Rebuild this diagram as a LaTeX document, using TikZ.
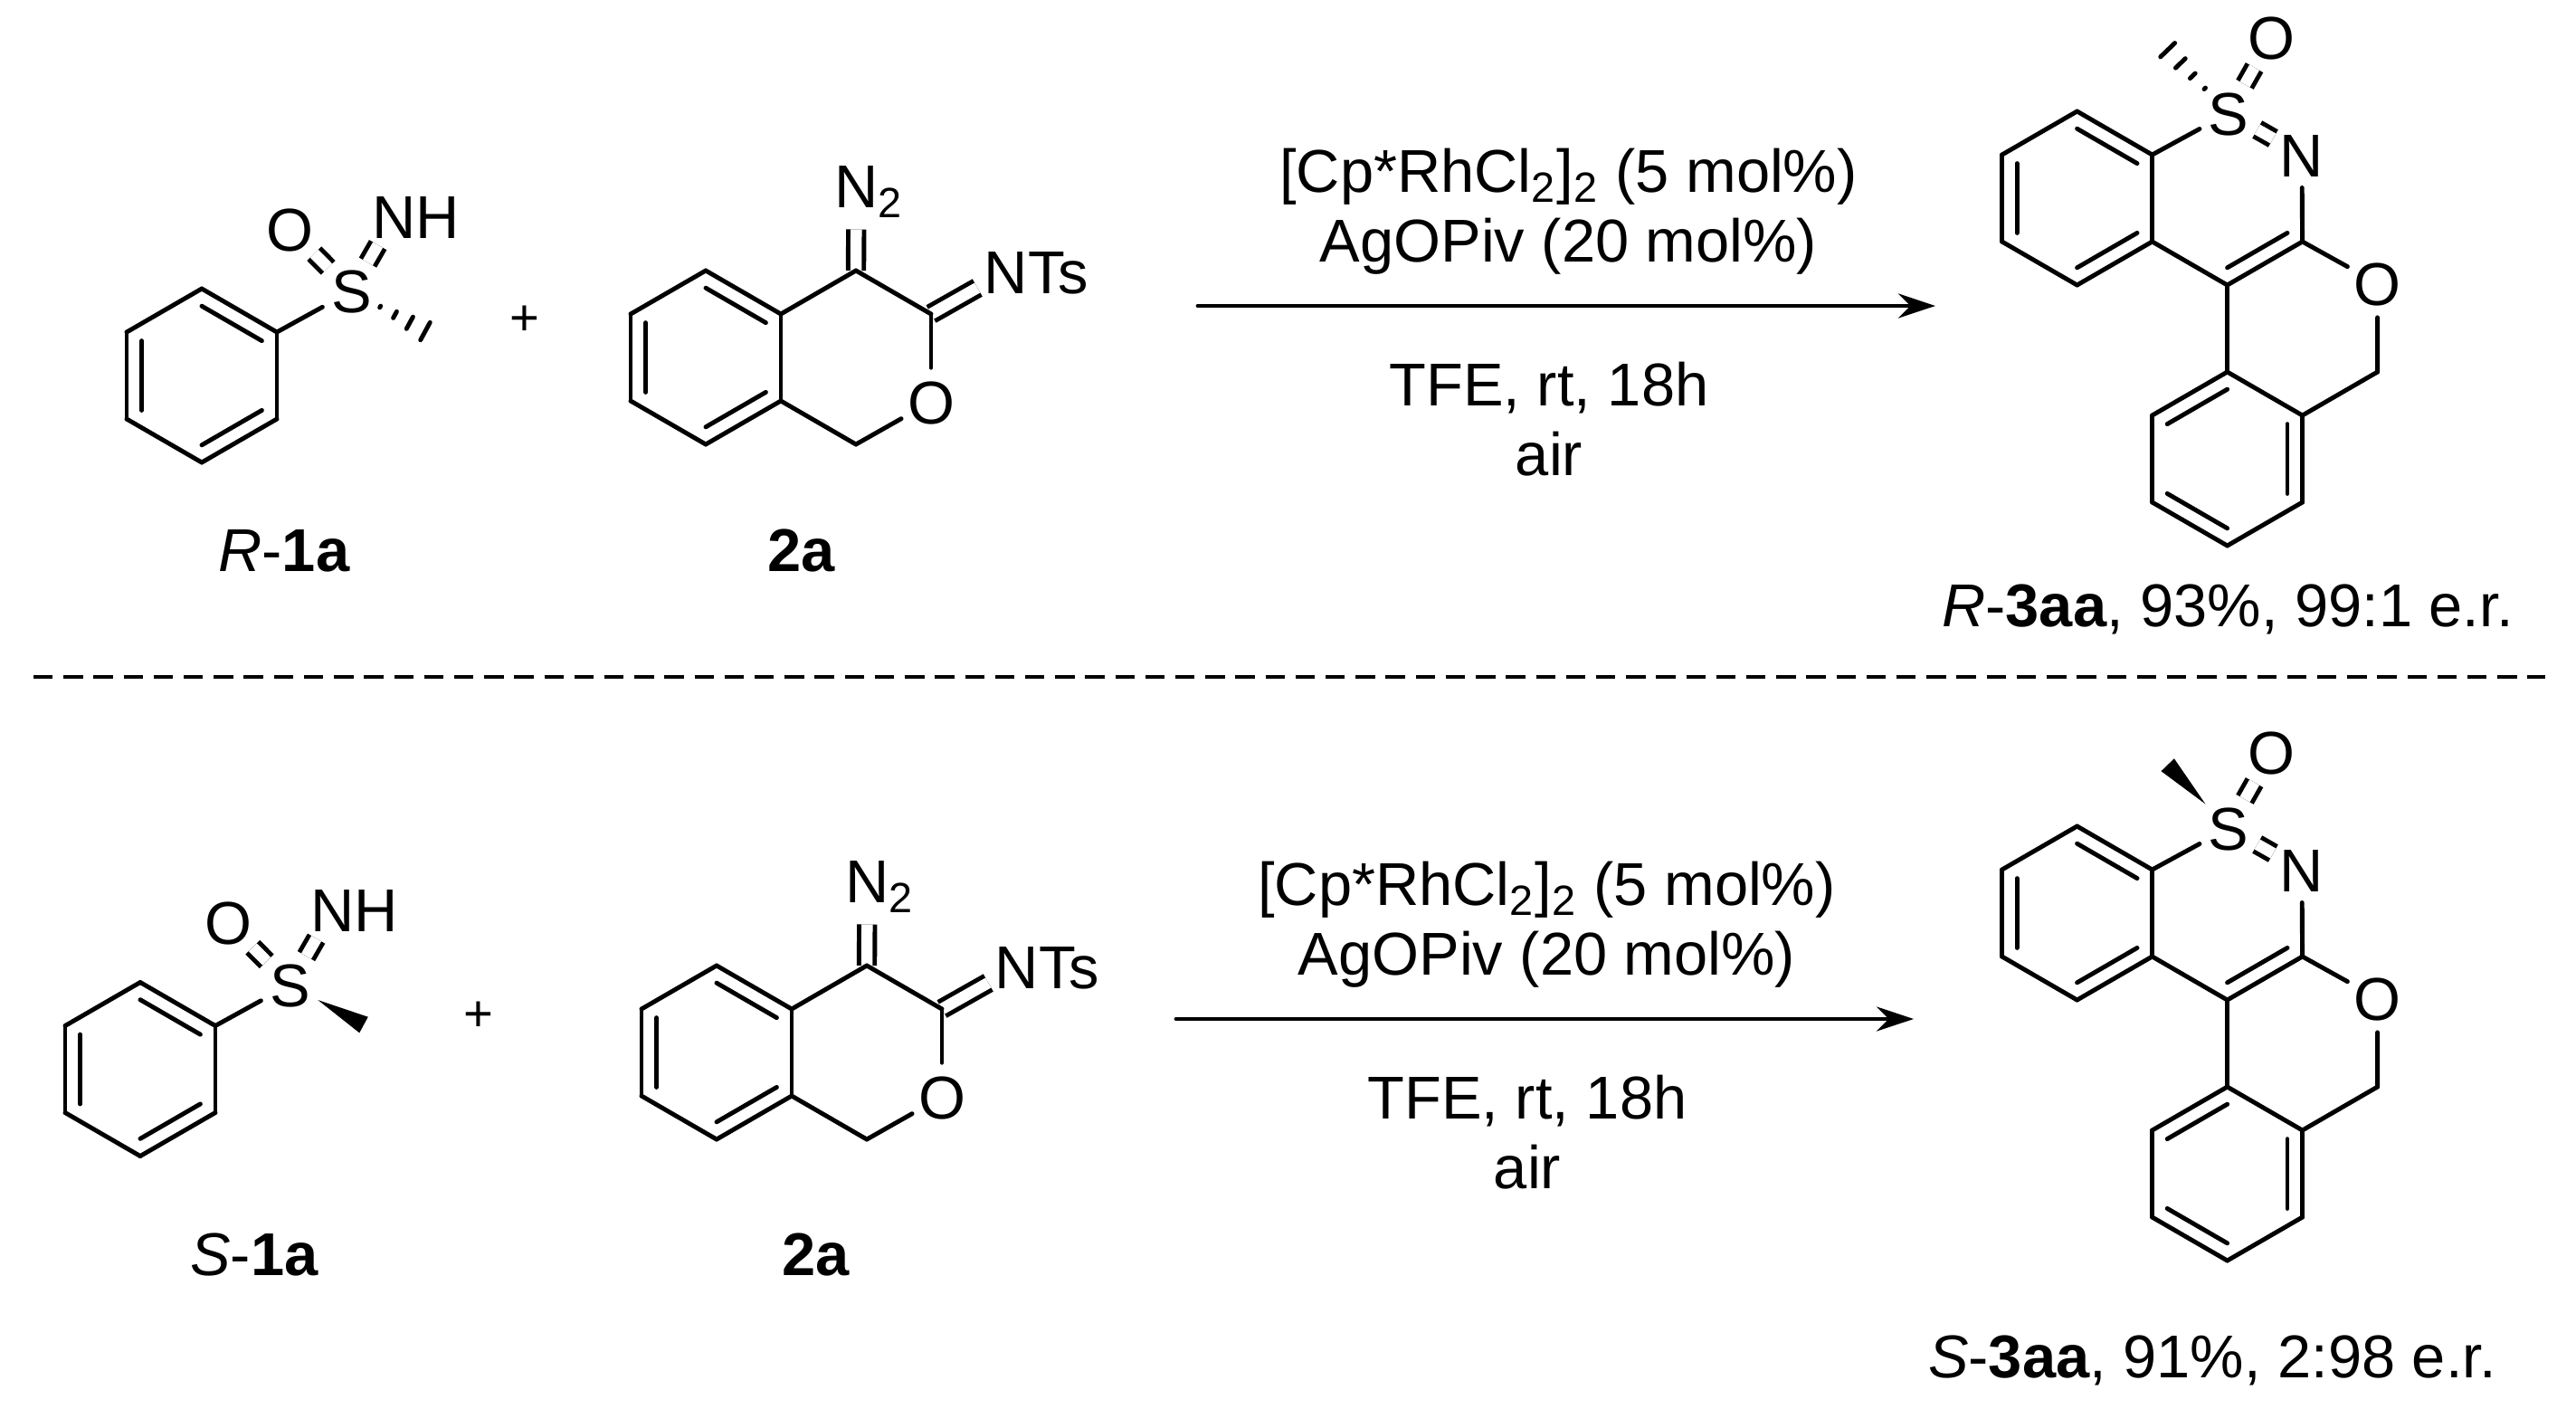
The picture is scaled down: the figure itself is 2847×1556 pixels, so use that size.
\documentclass[tikz,border=0pt]{standalone}
\usepackage{fontspec}
\setmainfont{Liberation Sans}
\usetikzlibrary{arrows.meta,calc}

\newcommand{\atomtail}[2]{\rlap{#1#2}\phantom{#1}}
\newcommand{\ringdbl}[3]{\draw[bond] ($(#1)!.8!(#2)$) -- ($(#1)!.8!(#3)$);}
\newcommand{\hashbond}[2]{\foreach \t/\w in {.39/.01,.59/.04,.79/.075,1/.11}
	\draw[bond] ($(#1)!\t!(#2)!\w cm!90:(#1)$) -- ($(#1)!\t!(#2)!\w cm!-90:(#1)$);}
\newcommand{\wedgebond}[2]{\fill ($(#1)!.38!(#2)$) -- ($(#2)!.1cm!90:(#1)$) -- ($(#2)!.1cm!-90:(#1)$) -- cycle;}

\newcommand{\sulfoximine}{
	\path[bond]
	coordinate (cen) at (223,415)
	coordinate (c1) at (223,319)
	coordinate (c2) at (306,367)
	coordinate (c3) at (306,463)
	coordinate (c4) at (223,511)
	coordinate (c5) at (140,463)
	coordinate (c6) at (140,367)
	node[atom] (s) at (388.3,321.7) {S}
	node[atom] (o) at (320.7,253.3) {O}
	node[atom] (n) at (435.8,239) {\atomtail{N}{H}}

	(s) edge[dbond] (o)
	(s) edge[dbond] (n)
	(c1) edge (c2)
	(c2) edge (c3)
	(c3) edge (c4)
	(c4) edge (c5)
	(c5) edge (c6)
	(c6) edge (c1)
	(c2) edge (s)
	;
	\ringdbl{cen}{c1}{c2}
	\ringdbl{cen}{c3}{c4}
	\ringdbl{cen}{c5}{c6}
	\coordinate (me) at (470,366);
}

\newcommand{\diazoimine}{
	\path[bond]
	coordinate (cen) at (780,395)
	coordinate (c1) at (780,299)
	coordinate (c2) at (863,347)
	coordinate (c3) at (863,443)
	coordinate (c4) at (780,491)
	coordinate (c5) at (697,443)
	coordinate (c6) at (697,347)
	coordinate (c7) at (946,299)
	coordinate (c8) at (1029,347)
	coordinate (c9) at (946,491)
	node[atom] (o) at (1029,444) {O}
	node[atom] (n1) at (946.6,205) {\atomtail{N}{\textsubscript{2}}}
	node[atom] (n2) at (1112,300) {\atomtail{N}{Ts}}

	(c7) edge[dbond, shorten >=.12cm] (n1)
	(c8) edge[dbond] (n2)
	(c1) edge (c2)
	(c2) edge (c3)
	(c3) edge (c4)
	(c4) edge (c5)
	(c5) edge (c6)
	(c6) edge (c1)
	(c2) edge (c7)
	(c7) edge (c8)
	(c8) edge (o)
	(o) edge (c9)
	(c9) edge (c3)
	;
	\ringdbl{cen}{c1}{c2}
	\ringdbl{cen}{c3}{c4}
	\ringdbl{cen}{c5}{c6}
}

\newcommand{\tetracycle}{
	\path[bond]
	coordinate (cena) at (2295.6,219)
	coordinate (a1) at (2295.6,123)
	coordinate (a2) at (2378.6,171)
	coordinate (a3) at (2378.6,267)
	coordinate (a4) at (2295.6,315)
	coordinate (a5) at (2212.6,267)
	coordinate (a6) at (2212.6,171)
	coordinate (cenb) at (2461.6,507)
	coordinate (b1) at (2461.6,411)
	coordinate (b2) at (2544.6,459)
	coordinate (b3) at (2544.6,555)
	coordinate (b4) at (2461.6,603)
	coordinate (b5) at (2378.6,555)
	coordinate (b6) at (2378.6,459)
	coordinate (cenc) at (2461.6,219)
	coordinate (d1) at (2544.6,267)
	coordinate (d2) at (2461.6,315)
	coordinate (d3) at (2627.6,411)
	node[atom] (s) at (2463,125) {S}
	node[atom] (o1) at (2510.2,41.7) {O}
	node[atom] (n) at (2544,171) {N}
	node[atom] (o2) at (2627.5,313) {O}

	(s) edge[dbond] (o1)
	(s) edge[dbond] (n)
	(a1) edge (a2)
	(a2) edge (a3)
	(a3) edge (a4)
	(a4) edge (a5)
	(a5) edge (a6)
	(a6) edge (a1)
	(a2) edge (s)
	(n) edge (d1)
	(d1) edge (d2)
	(d2) edge (a3)
	(d2) edge (b1)
	(d1) edge (o2)
	(o2) edge (d3)
	(d3) edge (b2)
	(b1) edge (b2)
	(b2) edge (b3)
	(b3) edge (b4)
	(b4) edge (b5)
	(b5) edge (b6)
	(b6) edge (b1)
	;
	\ringdbl{cena}{a1}{a2}
	\ringdbl{cena}{a3}{a4}
	\ringdbl{cena}{a5}{a6}
	\ringdbl{cenb}{b6}{b1}
	\ringdbl{cenb}{b2}{b3}
	\ringdbl{cenb}{b4}{b5}
	\ringdbl{cenc}{d1}{d2}
	\coordinate (me) at (2395.7,55.2);
}

\newcommand{\conditions}{
	\path[bond, ->]
	coordinate (start) at (1324,338)
	coordinate (stop) at (2139,338)
	node[txt] (cat) at (1733.5,212) {[Cp*RhCl\textsubscript{2}]\textsubscript{2} (5 mol\%)}
	node[txt] (add) at (1733.5,289) {AgOPiv (20 mol\%)}
	node[txt] (solv) at (1712,448) {TFE, rt, 18h}
	node[txt] (atm) at (1712,525) {air}

	(start) edge (stop)
	;
}

\begin{document}
\begin{tikzpicture}[x=.01cm, y=-.01cm, >={Stealth[length=.41cm, width=.27cm]},
	font=\fontsize{19}{22}\selectfont]
	\tikzstyle{bond} = [line width=1.4pt, line cap=round]
	\tikzstyle{dbond} = [double, double distance=.125cm, line cap=butt]
	\tikzstyle{atom} = [circle, inner sep=0pt, minimum size=.68cm, text height=.48cm, text depth=0pt]
	\tikzstyle{txt} = [anchor=base, inner sep=0pt]
	\tikzstyle{plus} = [inner sep=0pt, font=\fontsize{16}{20}\selectfont]
	\useasboundingbox (0,0) rectangle (2847,1556);

	% top reaction
	\begin{scope}[name prefix=ra-]
	\sulfoximine
	\hashbond{s}{me}
	\node[txt] (la) at (314,631) {\textit{R}-\textbf{1a}};
	\end{scope}
	\node[plus] (pa) at (580,354) {+};
	\begin{scope}[name prefix=rb-]
	\diazoimine
	\node[txt] (lb) at (886,631) {\textbf{2a}};
	\end{scope}
	\begin{scope}[name prefix=rc-]
	\conditions
	\end{scope}
	\begin{scope}[name prefix=rd-]
	\tetracycle
	\hashbond{s}{me}
	\node[txt] (ld) at (2462,692) {\textit{R}-\textbf{3aa}, 93\%, 99:1 e.r.};
	\end{scope}

	\coordinate (dl) at (37,748);
	\coordinate (dr) at (2813,748);
	\draw[line width=1.4pt, dash pattern=on .214cm off .1179cm] (dl) -- (dr);

	% bottom reaction
	\begin{scope}[shift={(-68,766.5)}, name prefix=sa-]
	\sulfoximine
	\wedgebond{s}{me}
	\end{scope}
	\node[txt] (sla) at (281,1409) {\textit{S}-\textbf{1a}};
	\node[plus] (pb) at (529,1123) {+};
	\begin{scope}[shift={(12,768)}, name prefix=sb-]
	\diazoimine
	\end{scope}
	\node[txt] (slb) at (902,1409) {\textbf{2a}};
	\begin{scope}[shift={(-24,788)}, name prefix=sc-]
	\conditions
	\end{scope}
	\begin{scope}[shift={(0,790)}, name prefix=sd-]
	\tetracycle
	\wedgebond{s}{me}
	\end{scope}
	\node[txt] (sld) at (2445,1522) {\textit{S}-\textbf{3aa}, 91\%, 2:98 e.r.};
\end{tikzpicture}
\end{document}
